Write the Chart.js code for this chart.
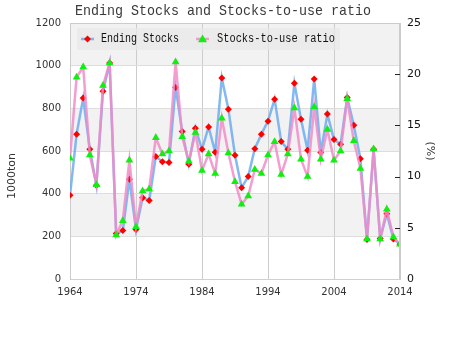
<!DOCTYPE html>
<html>
<head>
<meta charset="utf-8">
<script src="https://cdn.jsdelivr.net/npm/chart.js@4/dist/chart.umd.min.js"></script>
<style>html,body{margin:0;padding:0;background:#fff}#wrap{width:450px;height:350px}</style>
</head>
<body>
<div id="wrap"><canvas id="c" width="450" height="350"></canvas></div>
<script>
/* Ending stocks (1000 t, left axis) and stocks-to-use ratio (%, right axis), 1964-2014 */
const years=[];for(let y=1964;y<=2014;y++)years.push(y);
const stocks=[392,679,848,608,440,880,1012,213,227,467,232,
  381,368,574,550,546,898,691,538,707,608,
  713,594,942,796,580,428,480,611,679,740,
  843,644,608,917,749,603,937,593,773,654,
  632,851,721,564,185,608,190,306,188,163];
const ratio=[11.8,19.7,20.7,12.1,9.2,18.9,21.1,4.3,5.7,11.6,5.1,
  8.6,8.8,13.8,12.2,12.5,21.2,13.9,11.5,14.3,10.6,
  12.2,10.3,15.7,12.3,9.5,7.3,8.1,10.7,10.3,12.1,
  13.4,10.2,12.2,16.7,11.7,10.0,16.8,11.7,14.6,11.6,
  12.5,17.6,13.5,10.8,3.9,12.7,3.9,6.8,4.1,3.4];
const TITLE='Ending Stocks and Stocks-to-use ratio';
const NAMES=['Ending Stocks','Stocks-to-use ratio'];
const YLABEL='1000ton';

const C={blue:'rgba(110,172,238,0.85)',pink:'rgba(242,140,200,0.85)',red:'#ff0000',green:'#11ee11',txt:'#333'};
const MONO="'Liberation Mono','DejaVu Sans Mono',monospace";

// squeeze monospace text to a given width (narrow gothic look)
function fitText(ctx,t,x,y,w,px,align){
  ctx.save();ctx.font=px+'px '+MONO;ctx.textBaseline='middle';
  const k=w/ctx.measureText(t).width;
  ctx.translate(align==='center'?x-w/2:x,y);ctx.scale(k,1);ctx.textAlign='left';ctx.fillText(t,0,0);ctx.restore();
}
function diamond(ctx,x,y,r){ctx.beginPath();ctx.moveTo(x,y-r);ctx.lineTo(x+r,y);ctx.lineTo(x,y+r);ctx.lineTo(x-r,y);ctx.closePath();ctx.fill();}
function tri(ctx,x,y,r){ctx.beginPath();ctx.moveTo(x,y-r);ctx.lineTo(x+r,y+r*0.7);ctx.lineTo(x-r,y+r*0.7);ctx.closePath();ctx.fill();}

const deco={id:'deco',
  beforeDraw(ch){ // alternating bands every 200 on left axis
    const {ctx,chartArea:a,scales:{y}}=ch;ctx.save();ctx.fillStyle='#f2f2f2';
    for(let v=200;v<1200;v+=400){const t=y.getPixelForValue(v+200),b=y.getPixelForValue(v);ctx.fillRect(a.left,t,a.right-a.left,b-t);}
    ctx.restore();
  },
  beforeDatasetsDraw(ch){ // legend box inside plot
    const {ctx}=ch;ctx.save();
    ctx.fillStyle='rgba(232,232,232,0.7)';ctx.fillRect(77,28,263,22);
    const ly=39;
    ctx.lineWidth=2.5;ctx.strokeStyle=C.blue;ctx.beginPath();ctx.moveTo(81,ly);ctx.lineTo(94,ly);ctx.stroke();
    ctx.fillStyle=C.red;diamond(ctx,87.5,ly,3.5);
    ctx.strokeStyle=C.pink;ctx.beginPath();ctx.moveTo(196,ly);ctx.lineTo(209,ly);ctx.stroke();
    ctx.fillStyle=C.green;tri(ctx,202.5,ly,4.5);
    ctx.fillStyle='#111';
    fitText(ctx,NAMES[0],101,ly,78,12);
    fitText(ctx,NAMES[1],217,ly,118,12);
    ctx.restore();
  },
  afterDraw(ch){
    const {ctx,chartArea:a,scales:{y2}}=ch;ctx.save();
    ctx.strokeStyle='#cccccc';ctx.lineWidth=1;
    ctx.beginPath();ctx.moveTo(a.left,a.top+0.5);ctx.lineTo(a.right,a.top+0.5);ctx.moveTo(a.right-0.5,a.top);ctx.lineTo(a.right-0.5,a.bottom);ctx.stroke();
    ctx.strokeStyle='#222';ctx.beginPath();
    for(let v=5;v<25;v+=5){const p=Math.round(y2.getPixelForValue(v))+0.5;ctx.moveTo(a.right-5,p);ctx.lineTo(a.right,p);}
    ctx.stroke();
    ctx.fillStyle='#3a3a3a';fitText(ctx,TITLE,223,11,296,15,'center');
    // left axis name
    ctx.translate(12,176);ctx.rotate(-Math.PI/2);ctx.fillStyle=C.txt;ctx.font="11px 'DejaVu Sans'";
    ctx.textAlign='center';ctx.textBaseline='middle';ctx.fillText(YLABEL,0,0);
    ctx.restore();
  }};

const tickFont={family:'DejaVu Sans',size:10};
new Chart(document.getElementById('c'),{type:'line',
  data:{datasets:[
    {label:NAMES[0],data:years.map((x,i)=>({x,y:stocks[i]})),yAxisID:'y',borderColor:C.blue,borderWidth:2.5,
      pointStyle:'rectRot',pointRadius:3.5,pointBackgroundColor:C.red,pointBorderColor:C.red,pointBorderWidth:0,tension:0,order:2},
    {label:NAMES[1],data:years.map((x,i)=>({x,y:ratio[i]})),yAxisID:'y2',borderColor:C.pink,borderWidth:2.5,
      pointStyle:'triangle',pointRadius:4.5,pointBackgroundColor:C.green,pointBorderColor:C.green,pointBorderWidth:0,tension:0,order:1}]},
  options:{responsive:false,animation:false,events:[],
    layout:{padding:{top:23,right:10,left:0,bottom:0}},
    plugins:{legend:{display:false},tooltip:{enabled:false},title:{display:false}},
    scales:{
      x:{type:'linear',min:1964,max:2014,afterFit:s=>{s.height=71;},
        ticks:{stepSize:10,color:C.txt,font:tickFont,padding:7,maxRotation:0,callback:v=>String(v)},
        grid:{color:'#cccccc',drawTicks:false},border:{color:'#b4e6ac',width:1}},
      y:{position:'left',min:0,max:1200,afterFit:s=>{s.width=70;},
        ticks:{stepSize:200,color:C.txt,font:tickFont,padding:9,callback:v=>String(v)},
        grid:{color:'#dddddd',drawTicks:false},border:{color:'#cccccc'}},
      y2:{position:'right',min:0,max:25,afterFit:s=>{s.width=40;},
        ticks:{stepSize:5,color:'#111',font:{family:'DejaVu Sans',size:11},padding:7,callback:v=>String(v)},
        grid:{drawOnChartArea:false,drawTicks:false},border:{display:false},
        title:{display:true,text:'(%)',color:C.txt,font:{family:'DejaVu Sans',size:11},padding:{top:4,bottom:0}}}}},
  plugins:[deco]});
</script>
</body>
</html>
